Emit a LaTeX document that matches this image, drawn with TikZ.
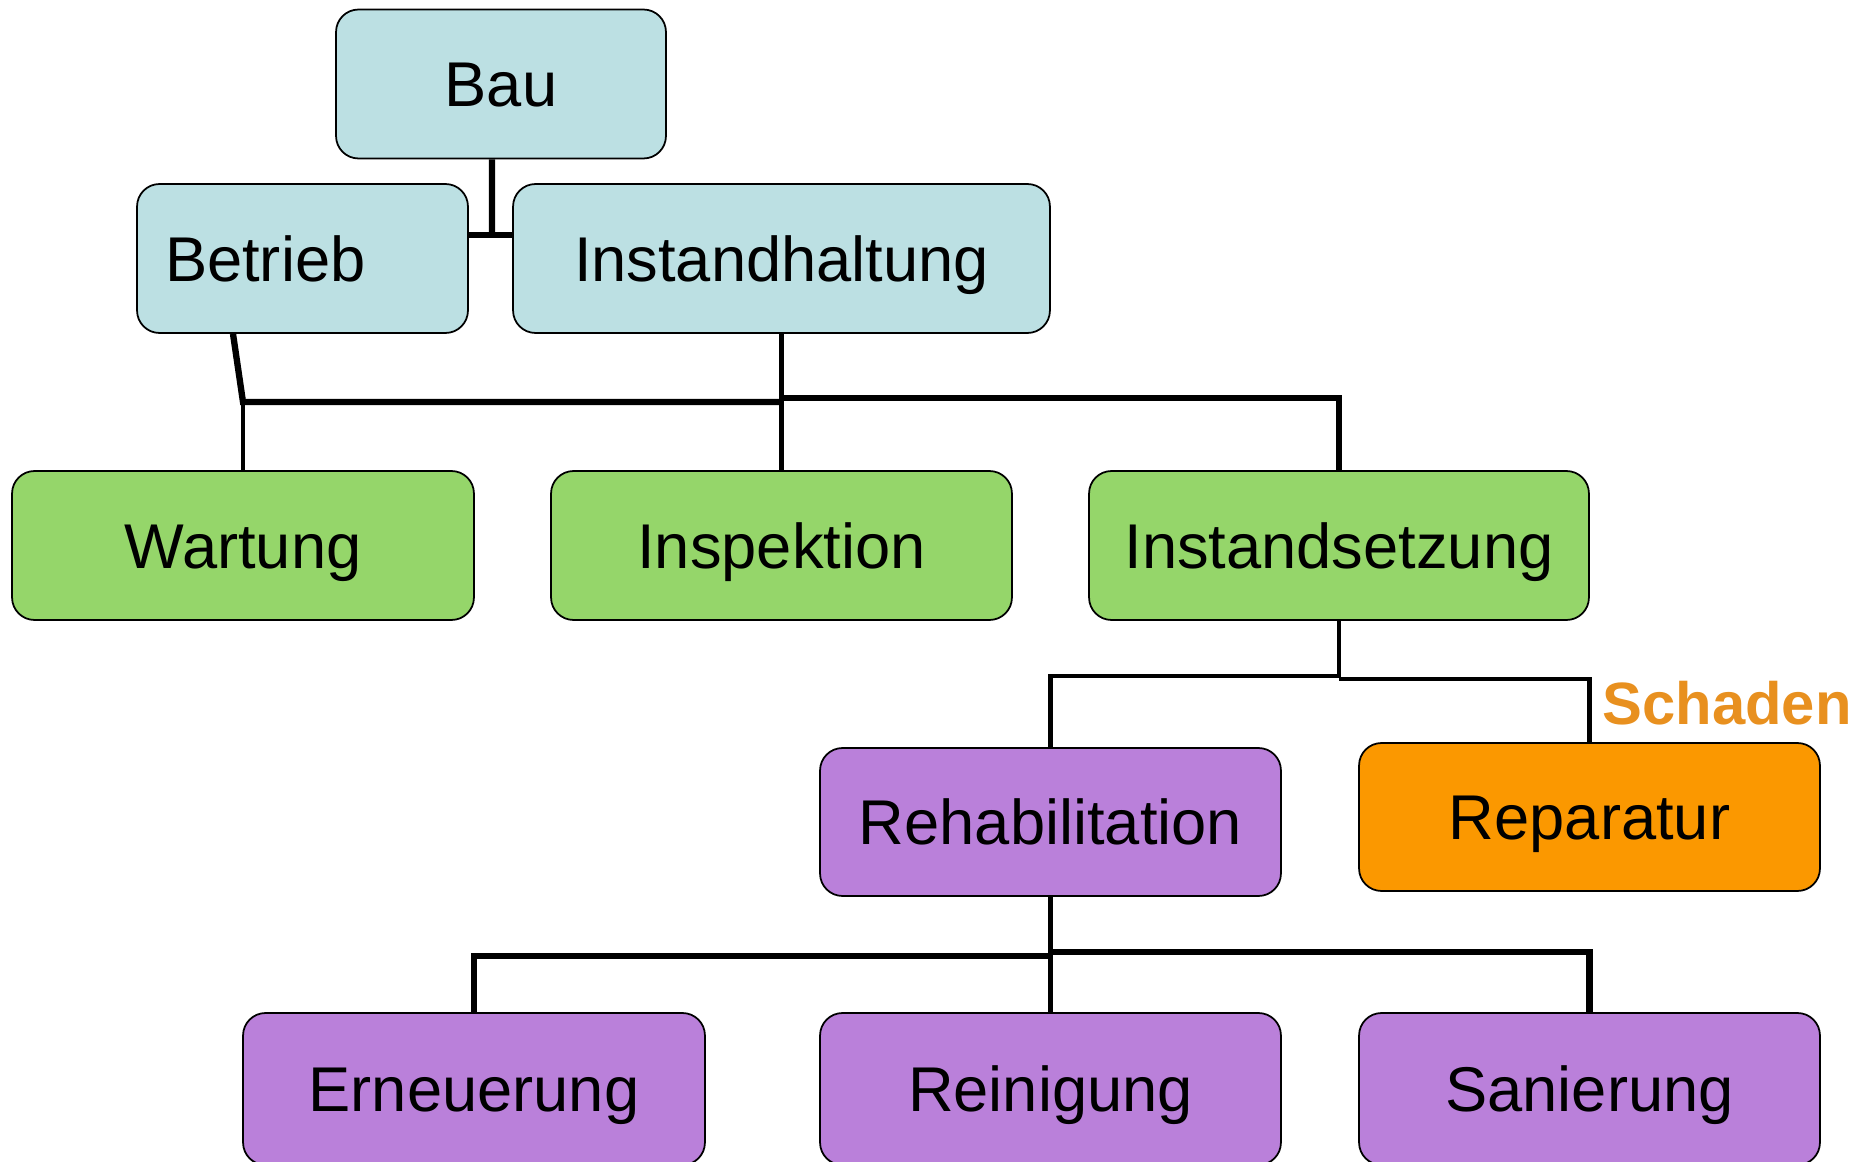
\documentclass[tikz,border=0pt]{standalone}
\usepackage{fontspec}
\setmainfont{Liberation Sans}
\usetikzlibrary{positioning}
\definecolor{baublau}{HTML}{BCE0E3}
\definecolor{massgruen}{HTML}{95D66A}
\definecolor{rehalila}{HTML}{BA80DA}
\definecolor{reporange}{HTML}{FB9800}
\definecolor{schadenorange}{HTML}{E8901F}

\tikzset{
  box/.style={draw=black, line width=1pt, rounded corners=0.45cm,
    minimum height=2.98cm, inner sep=0pt, text height=25.8pt, text depth=0pt,
    font=\fontsize{36}{40}\selectfont},
  oben/.style={box, fill=baublau},
  mitte/.style={box, fill=massgruen},
  unten/.style={box, fill=rehalila},
  link/.style={line width=2.5pt},
  thicklink/.style={line width=3.6pt}
}

\begin{document}
\begin{tikzpicture}[x=0.02cm, y=-0.02cm]
        \useasboundingbox (0,0) rectangle (1874,1162);

        % obere Ebene
        \node[oben, minimum width=6.6cm] (bau) at (501,84) {Bau};
        \node[oben, text width=5.5cm, inner xsep=0.56cm, align=left] (betrieb) at (302.5,258.5) {Betrieb};
        \node[oben, minimum width=10.74cm] (instandhaltung) at (781.5,258.5) {Instandhaltung};

        % Massnahmen
        \node[mitte, minimum width=9.24cm] (wartung) at (243,545.5) {Wartung};
        \node[mitte, minimum width=9.22cm] (inspektion) at (781.5,545.5) {Inspektion};
        \node[mitte, minimum width=10cm] (instandsetzung) at (1339,545.5) {Instandsetzung};

        \node[unten, minimum width=9.22cm, minimum height=2.96cm] (rehabilitation) at (1050.5,822) {Rehabilitation};
        \node[box, fill=reporange, minimum width=9.22cm, minimum height=2.96cm] (reparatur) at (1589.5,817) {Reparatur};
        \node[font=\fontsize{34}{38}\selectfont\bfseries, text=schadenorange] (schaden) at (1727,703) {Schaden};

        \node[unten, minimum width=9.24cm, minimum height=3.04cm] (erneuerung) at (474,1089) {Erneuerung};
        \node[unten, minimum width=9.22cm, minimum height=3.04cm] (reinigung) at (1050.5,1089) {Reinigung};
        \node[unten, minimum width=9.22cm, minimum height=3.04cm] (sanierung) at (1589.5,1089) {Sanierung};

        % Hilfspunkte
        \coordinate (jbau) at (492,235);
        \coordinate (jlinks) at (243,402);
        \coordinate (jrechts) at (782,398);
        \coordinate (jsetz) at (1339,676);
        \coordinate (jrep) at (1339,679);
        \coordinate (jreha) at (1050.5,956);
        \coordinate (jsan) at (1050.5,952);

        % Verbindungen
        \draw[thicklink] ([xshift=-0.18cm]bau.south) -- (jbau);
        \draw[thicklink] (betrieb.east |- jbau) -- (instandhaltung.west |- jbau);

        \draw[thicklink] ([xshift=-1.39cm]betrieb.south) -- (jlinks) -- (inspektion.north |- jlinks);
        \draw[link] (jlinks) -- (wartung.north);
        \draw[link] (instandhaltung.south) -- (inspektion.north);
        \draw[thicklink] (jrechts) -- (instandsetzung.north |- jrechts) -- (instandsetzung.north);

        \draw[link] (instandsetzung.south) -- (jsetz) -- (rehabilitation.north |- jsetz) -- (rehabilitation.north);
        \draw[link] (jrep) -- (reparatur.north |- jrep) -- (reparatur.north);

        \draw[link] (rehabilitation.south) -- (reinigung.north);
        \draw[thicklink] (jreha) -- (erneuerung.north |- jreha) -- (erneuerung.north);
        \draw[thicklink] (jsan) -- (sanierung.north |- jsan) -- (sanierung.north);
\end{tikzpicture}
\end{document}
